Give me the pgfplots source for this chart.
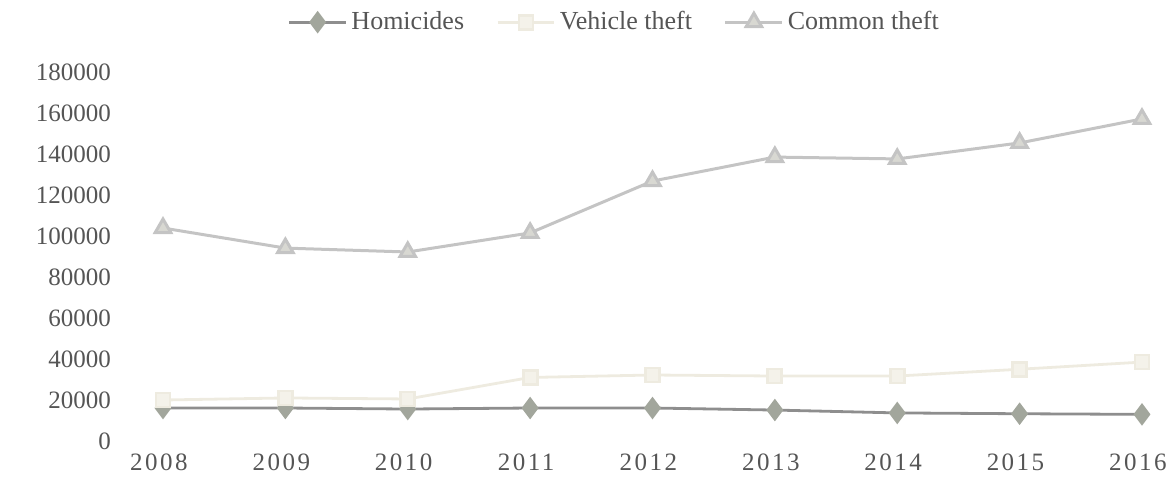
\documentclass[border=0pt]{standalone}
\usepackage{pgfplots}
\pgfplotsset{compat=1.18}
\usepackage{fontspec}
\setmainfont{Liberation Serif}
\newfontfamily\spaced[LetterSpace=10]{Liberation Serif}
\definecolor{homc}{HTML}{8E8E8E}
\definecolor{homm}{HTML}{A2A69C}
\definecolor{vehc}{HTML}{EEEBE0}
\definecolor{vehm}{HTML}{F4F2EA}
\definecolor{comc}{HTML}{C4C4C4}
\definecolor{comm}{HTML}{D8D8D2}
\definecolor{txt}{HTML}{555555}
\begin{document}
\begin{tikzpicture}
\begin{axis}[
  scale only axis,
  width=489.5pt, height=184.5pt,
  xmin=2008, xmax=2016, ymin=0, ymax=180000,
  axis line style={draw=none},
  tick style={draw=none},
  clip=false,
  xtick={2008,...,2016},
  ytick={0,20000,...,180000},
  scaled y ticks=false,
  /pgf/number format/assume math mode=true,
  yticklabel={\pgfmathprintnumber[fixed,1000 sep={}]{\tick}},
  xticklabel={{\spaced\pgfmathprintnumber[1000 sep={}]{\tick}}},
  yticklabel style={xshift=-22.5pt},
  xticklabel style={yshift=-3pt, xshift=-2pt},
  font=\fontsize{12.5}{14}\selectfont,
  tick label style={text=txt},
  legend columns=3,
  legend style={at={(0.462,1.135)}, anchor=center, draw=none, fill=none,
    text=txt, font=\fontsize{13}{15}\selectfont,
    /tikz/every even column/.append style={column sep=14pt}},
  legend image code/.code={\draw[mark repeat=2,mark phase=2,#1] plot coordinates {(0cm,0cm)(0.5cm,0cm)(1cm,0cm)};},
]
\addplot[homc, line width=1.4pt, mark=diamond*, mark size=4.5pt,
  mark options={fill=homm, draw=homm}]
  coordinates {(2008,16100)(2009,16100)(2010,15600)(2011,16100)(2012,16100)(2013,15100)(2014,13700)(2015,13300)(2016,13000)};
\addlegendentry{Homicides}
\addplot[vehc, line width=1.4pt, mark=square*, mark size=3.5pt,
  mark options={fill=vehm, draw=vehc}]
  coordinates {(2008,20000)(2009,21000)(2010,20500)(2011,31000)(2012,32200)(2013,31700)(2014,31700)(2015,35000)(2016,38500)};
\addlegendentry{Vehicle theft}
\addplot[comc, line width=1.5pt, mark=triangle*, mark size=4.5pt,
  mark options={fill=comm, draw=comc}]
  coordinates {(2008,103900)(2009,94100)(2010,92200)(2011,101500)(2012,126800)(2013,138500)(2014,137600)(2015,145400)(2016,157100)};
\addlegendentry{Common theft}
\end{axis}
\pgfresetboundingbox
\path (-81.5pt,-18.5pt) rectangle (503.5pt,220.5pt);
\end{tikzpicture}
\end{document}
